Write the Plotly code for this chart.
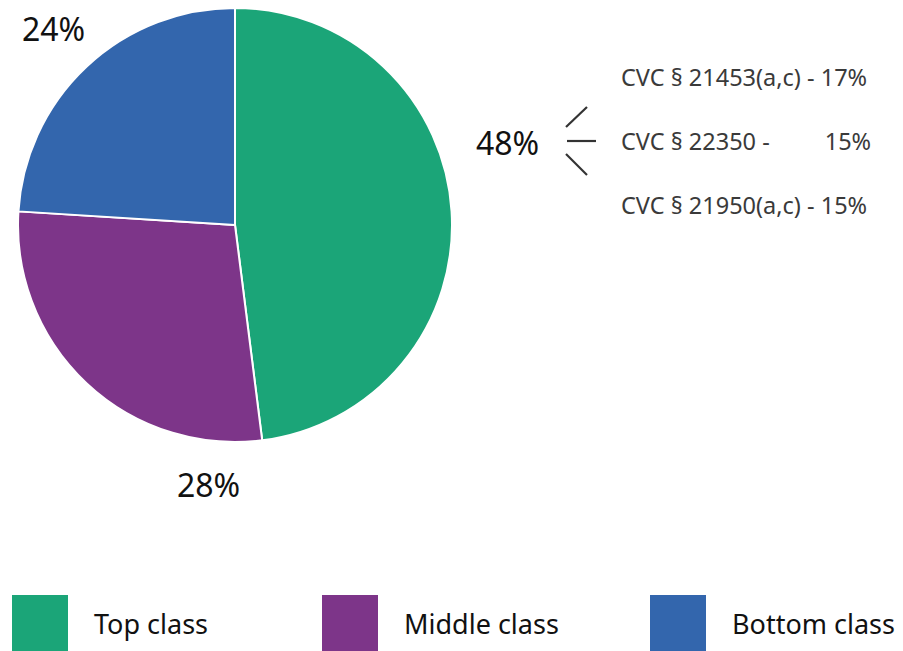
import plotly.graph_objects as go

# Page body has an 8px default margin, so the figure is 8px smaller and coordinates shifted.
OFF = 8
W, H = 903 - OFF, 651 - OFF
categories = ["Top class", "Middle class", "Bottom class"]
values = [48, 28, 24]
colors = ["#1BA578", "#7D3589", "#3366AD"]
pct_labels = ["48%", "28%", "24%"]
sub_labels = ["CVC § 21453(a,c) - 17%", "CVC § 22350 -         15%", "CVC § 21950(a,c) - 15%"]

def px(x):
    return (x - OFF) / W

def py(y):
    return min(1.0, max(0.0, 1 - (y - OFF) / H))

fig = go.Figure()
fig.add_trace(go.Pie(
    labels=categories, values=values, sort=False, direction="clockwise", rotation=0,
    marker=dict(colors=colors, line=dict(color="white", width=2)),
    textinfo="none", hoverinfo="label+percent", showlegend=False,
    domain=dict(x=[px(17), px(453)], y=[py(442), py(6)]),
))

FONT = "Noto Sans"
ann = []
pct_pos = {"48%": (507, 142), "28%": (208, 484), "24%": (53, 29)}
for t in pct_labels:
    x, y = pct_pos[t]
    ann.append(dict(x=px(x), y=py(y), xref="paper", yref="paper", text=t, showarrow=False,
                    xanchor="center", yanchor="middle", borderpad=0,
                    font=dict(family=FONT, size=32, color="#111")))
for i, t in enumerate(sub_labels):
    y = [77, 141, 205][i]
    ann.append(dict(x=px(619), y=py(y), xref="paper", yref="paper", text=t.replace("  ", "&nbsp;&nbsp;"),
                    showarrow=False, xanchor="left", yanchor="middle",
                    font=dict(family=FONT, size=23.5, color="#3a3a3a")))

shapes = []
for (x0, y0, x1, y1) in [(566, 127, 587, 107), (567, 141, 596, 141), (566, 154, 587, 175)]:
    shapes.append(dict(type="line", xref="paper", yref="paper", x0=px(x0), y0=py(y0), x1=px(x1), y1=py(y1),
                       line=dict(color="#333", width=2.2)))

leg_x = [12, 322, 650]
for i, c in enumerate(categories):
    x0 = leg_x[i]
    shapes.append(dict(type="rect", xref="paper", yref="paper", x0=px(x0), x1=px(x0 + 56),
                       y0=py(651), y1=py(595), fillcolor=colors[i], line=dict(width=0)))
    ann.append(dict(x=px(x0 + 80), y=py(623), xref="paper", yref="paper", text=c, showarrow=False,
                    xanchor="left", yanchor="middle", font=dict(family=FONT, size=27, color="#111")))

fig.update_layout(width=W, height=H, margin=dict(l=0, r=0, t=0, b=0),
                  paper_bgcolor="white", plot_bgcolor="white",
                  annotations=ann, shapes=shapes)
fig.write_html("out.html")
